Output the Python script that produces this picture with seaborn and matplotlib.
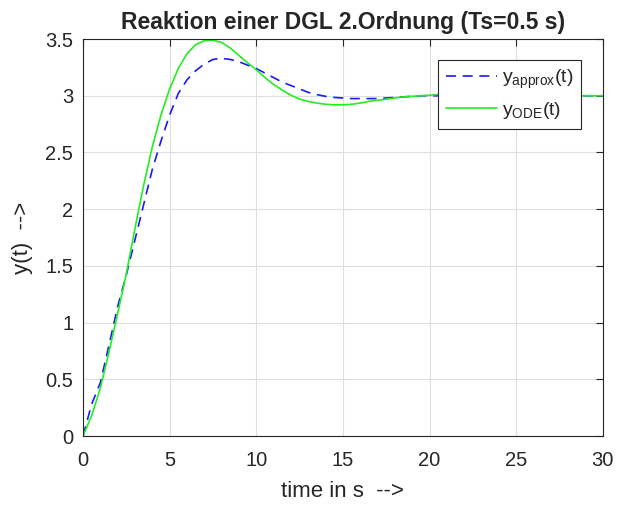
import numpy as np
import pandas as pd
import matplotlib
matplotlib.use("Agg")
import matplotlib.pyplot as plt
from matplotlib.ticker import FuncFormatter
import seaborn as sns

# sample times (Ts = 0.5 s)
t = [i * 0.5 for i in range(61)]

# y_ODE(t)
y_ode = [0.00, 0.18, 0.42, 0.74, 1.08, 1.43, 1.83, 2.21, 2.55, 2.83,
         3.06, 3.24, 3.37, 3.45, 3.485, 3.49, 3.47, 3.42, 3.355, 3.29,
         3.23, 3.16, 3.10, 3.05, 3.005, 2.97, 2.95, 2.935, 2.925, 2.92,
         2.92, 2.925, 2.935, 2.95, 2.96, 2.97, 2.98, 2.99, 2.995, 3.00,
         3.005, 3.01, 3.01, 3.01, 3.01, 3.01, 3.005, 3.00, 3.00, 3.00,
         3.00, 3.00, 3.00, 3.00, 3.00, 3.00, 3.00, 3.00, 3.00, 3.00, 3.00]

# y_approx(t)
y_approx = [0.00, 0.28, 0.47, 0.80, 1.14, 1.42, 1.73, 2.04, 2.35, 2.60,
            2.83, 3.02, 3.14, 3.22, 3.28, 3.32, 3.33, 3.32, 3.30, 3.27,
            3.24, 3.20, 3.16, 3.12, 3.09, 3.06, 3.03, 3.01, 2.995, 2.985,
            2.98, 2.975, 2.975, 2.975, 2.975, 2.98, 2.985, 2.99, 2.995, 3.00,
            3.00, 3.00, 3.00, 3.00, 3.00, 3.00, 3.00, 3.00, 3.00, 3.00,
            3.00, 3.00, 3.00, 3.00, 3.00, 3.00, 3.00, 3.00, 3.00, 3.00, 3.00]

df = pd.DataFrame({'t': t, 'approx': y_approx, 'ode': y_ode})

sns.set_style("white")
plt.rcParams['font.family'] = ['Liberation Sans', 'DejaVu Sans']
plt.rcParams['mathtext.fontset'] = 'custom'
plt.rcParams['mathtext.rm'] = 'Liberation Sans'

fig = plt.figure(figsize=(6.17, 5.07), dpi=100)
ax = fig.add_axes([0.1345, 0.140, 0.8425, 0.783])

sns.lineplot(data=df, x='t', y='approx', ax=ax, color='#1a1aff', linewidth=1.2,
             linestyle=(0, (6, 4)), label=r'$\mathregular{y_{approx}(t)}$')
sns.lineplot(data=df, x='t', y='ode', ax=ax, color='#22ee22', linewidth=1.2,
             label=r'$\mathregular{y_{ODE}(t)}$')

ax.set_xlim(0, 30)
ax.set_ylim(0, 3.5)
ax.set_xticks(np.arange(0, 31, 5))
ax.set_yticks(np.arange(0, 3.51, 0.5))
ax.xaxis.set_major_formatter(FuncFormatter(lambda v, p: '%g' % v))
ax.yaxis.set_major_formatter(FuncFormatter(lambda v, p: '%g' % v))
ax.grid(True, color='#dedede', linewidth=0.8)
ax.tick_params(direction='in', top=True, right=True, length=5, width=0.8,
               colors='#262626', labelsize=14.5)
ax.tick_params(axis='x', pad=11)
ax.tick_params(axis='y', pad=7)
for s in ax.spines.values():
    s.set_color('#262626')
    s.set_linewidth(0.8)

ax.set_xlabel('time in s  -->', fontsize=16, color='#262626', labelpad=8)
ax.set_ylabel('y(t)  -->', fontsize=16, color='#262626', labelpad=9)
ax.set_title('Reaktion einer DGL 2.Ordnung (Ts=0.5 s)', fontsize=16.5,
             fontweight='bold', pad=7)

leg = ax.legend(loc='upper right', bbox_to_anchor=(0.959, 0.947), borderaxespad=0,
                fancybox=False, edgecolor='#262626', framealpha=1, fontsize=14,
                handlelength=2.6, handletextpad=0.3, borderpad=0.4,
                labelspacing=0.45)
leg.get_frame().set_linewidth(0.8)

fig.savefig('out.png', dpi=100)
